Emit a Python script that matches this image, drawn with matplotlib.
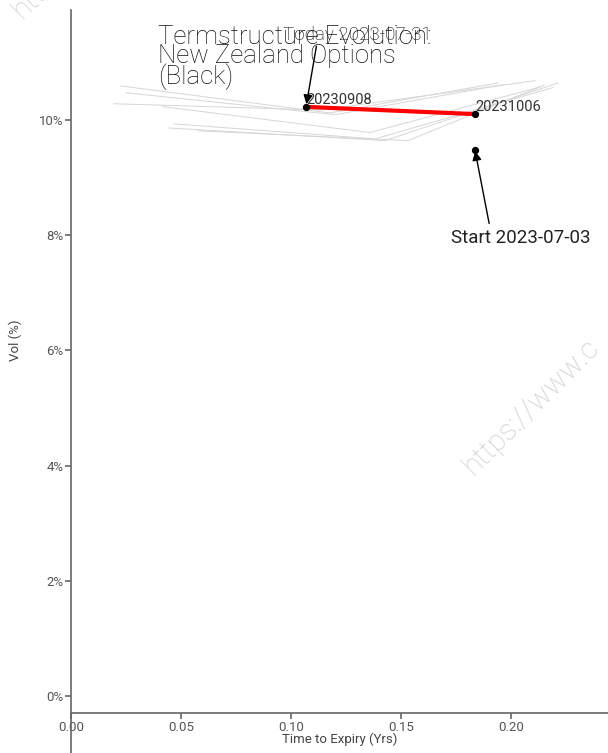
import matplotlib
matplotlib.use('Agg')
from matplotlib import pyplot as plt
from matplotlib.ticker import PercentFormatter

# current term structure (2023-07-31)
expiries = ['20230908', '20231006']
tte_today = [0.1068, 0.1836]
vol_today = [10.225, 10.10]

# start point (2023-07-03)
tte_start = 0.1836
vol_start = 9.48

# history curves (grey), time to expiry / vol in %
hist_tte = [
    [0.0223, 0.1177, 0.1941],
    [0.0250, 0.1200, 0.1964],
    [0.0195, 0.1132, 0.2109],
    [0.0414, 0.1359, 0.2132],
    [0.0468, 0.1382, 0.2191],
    [0.0441, 0.1427, 0.2214],
    [0.0577, 0.1532, 0.2150],
]
hist_vol = [
    [10.59, 10.12, 10.64],
    [10.47, 10.09, 10.61],
    [10.28, 10.17, 10.68],
    [10.23, 9.78, 10.57],
    [9.93, 9.67, 10.56],
    [9.86, 9.64, 10.64],
    [9.81, 9.64, 10.60],
]

yticks = [0, 2, 4, 6, 8, 10]
xticks = [0.0, 0.05, 0.10, 0.15, 0.20]

plt.rcParams['font.family'] = ['Roboto', 'DejaVu Sans']

W, H = 608, 753
fig = plt.figure(figsize=(W / 100, H / 100), dpi=100)
ax = fig.add_axes([71 / W, 0, 1 - 71 / W, 1 - 10 / H])

grey = '#666666'
for t, v in zip(hist_tte, hist_vol):
    ax.plot(t, v, color='#d6d6d6', lw=0.7, zorder=1)

ax.plot(tte_today, vol_today, color='red', lw=3, zorder=2)
ax.scatter(tte_today, vol_today, color='black', s=18, zorder=3)
ax.scatter([tte_start], [vol_start], color='black', s=18, zorder=3)

for t, v, lab in zip(tte_today, vol_today, expiries):
    ax.text(t, v, lab, fontsize=10.5, color='#333333',
            ha='left', va='bottom')

ax.annotate('Today 2023-07-31', xy=(tte_today[0], vol_today[0]),
            xytext=(0.0965, 11.48), fontsize=13.5, fontweight='light',
            color='black', ha='left', va='center',
            arrowprops=dict(arrowstyle='-|>', color='black', lw=1,
                            relpos=(0.23, 0.2), shrinkA=0, shrinkB=2))
ax.annotate('Start 2023-07-03', xy=(tte_start, vol_start),
            xytext=(0.2045, 7.95), fontsize=13.5,
            color='#222222', ha='center', va='center',
            arrowprops=dict(arrowstyle='-|>', color='black', lw=1,
                            relpos=(0.28, 1.0), shrinkA=2, shrinkB=1))

ax.text(0.0395, 11.65, 'Termstructure Evolution:\nNew Zealand Options\n(Black)',
        fontsize=18.5, fontweight='light', color='#111111', ha='left', va='top',
        linespacing=0.76)

# watermark
fig.text(473, H - 476, 'https://www.c', transform=None, fontsize=21,
         color='#cccccc', rotation=45, ha='left', va='baseline',
         rotation_mode='anchor', fontweight='light')
fig.text(22, H - 20, 'https://www.c', transform=None, fontsize=21,
         color='#cccccc', rotation=45, ha='left', va='baseline',
         rotation_mode='anchor', fontweight='light')

ax.set_xlim(0, (W - 71) / 2200)
ax.set_ylim(-(H - 696) / 57.7, 10 + 110 / 57.7)

for s in ['top', 'right']:
    ax.spines[s].set_visible(False)
ax.spines['left'].set_color(grey)
ax.spines['bottom'].set_color(grey)
ax.spines['left'].set_linewidth(1.2)
ax.spines['bottom'].set_linewidth(1.2)
ax.spines['bottom'].set_position(('data', -17 / 57.7))

ax.set_yticks(yticks)
ax.set_xticks(xticks)
ax.xaxis.set_major_formatter(lambda x, p: f'{x:.2f}')
ax.yaxis.set_major_formatter(PercentFormatter(decimals=0))
ax.tick_params(colors=grey, labelcolor='#555555', labelsize=9.5, length=4,
               width=1.2, pad=1.5)

ax.set_xlabel('Time to Expiry (Yrs)', fontsize=9.5, color='#444444')
ax.set_ylabel('Vol (%)', fontsize=9.5, color='#444444')
ax.xaxis.set_label_coords(0.5, (H - 733) / 743)
ax.yaxis.set_label_coords((22 - 71) / (W - 71), (H - 340) / 743)

fig.savefig('out.png', dpi=100)
